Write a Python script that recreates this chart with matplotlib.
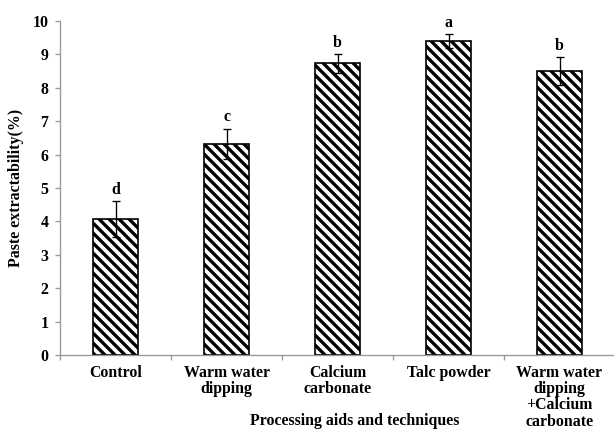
import matplotlib.pyplot as plt
import numpy as np

# données
categories = ["Control", "Warm water\ndipping", "Calcium\ncarbonate",
              "Talc powder", "Warm water\ndipping\n+Calcium\ncarbonate"]
values = [4.07, 6.32, 8.73, 9.40, 8.50]
errors = [0.53, 0.46, 0.28, 0.20, 0.42]
letters = ["d", "c", "b", "a", "b"]

plt.rcParams['font.family'] = ['Liberation Serif', 'DejaVu Serif']
plt.rcParams['font.weight'] = 'bold'
plt.rcParams['hatch.linewidth'] = 2.0
plt.rcParams['hatch.color'] = 'black'

DPI = 120
fig = plt.figure(figsize=(614 / DPI, 430 / DPI), dpi=DPI)
ax = fig.add_axes([60 / 614, 1 - 355 / 430, 555 / 614, (355 - 21) / 430])

x = np.arange(len(categories))
ax.bar(x, values, width=0.4, color='white', edgecolor='black',
       linewidth=1.0, hatch='\\\\\\\\', zorder=2)
ax.errorbar(x, values, yerr=errors, fmt='none', ecolor='black',
            elinewidth=0.8, capsize=2.2, capthick=0.8, zorder=3)

# lettres de significativité au-dessus des barres d'erreur
for xi, v, e, lab in zip(x, values, errors, letters):
    ax.annotate(lab, (xi, v + e), xytext=(0, 2), textcoords='offset points',
                ha='center', va='bottom', fontsize=9.5, fontweight='bold')

ax.set_xlim(-0.5, 4.5)
ax.set_ylim(0, 10)
ax.set_yticks(range(0, 11))
ax.tick_params(axis='y', direction='out', length=3, width=0.8,
               color='#999999', labelsize=9.5, pad=4)

ax.set_xticks(x)
ax.set_xticklabels(categories, fontsize=9.5, fontweight='bold', linespacing=1.02)
ax.set_xticks(np.arange(-0.5, 5.0, 1.0), minor=True)
ax.tick_params(axis='x', which='major', length=0, pad=6)
ax.tick_params(axis='x', which='minor', direction='out', length=3,
               width=0.8, color='#999999')

for s in ['top', 'right']:
    ax.spines[s].set_visible(False)
for s in ['left', 'bottom']:
    ax.spines[s].set_color('#999999')
    ax.spines[s].set_linewidth(0.8)

ax.set_ylabel("Paste extractability(%)", fontsize=9.5, fontweight='bold', labelpad=5)
fig.text(355 / 614, 1 - 421 / 430, "Processing aids and techniques",
         ha='center', va='center', fontsize=9.5, fontweight='bold')

fig.savefig("out.png", dpi=DPI)
